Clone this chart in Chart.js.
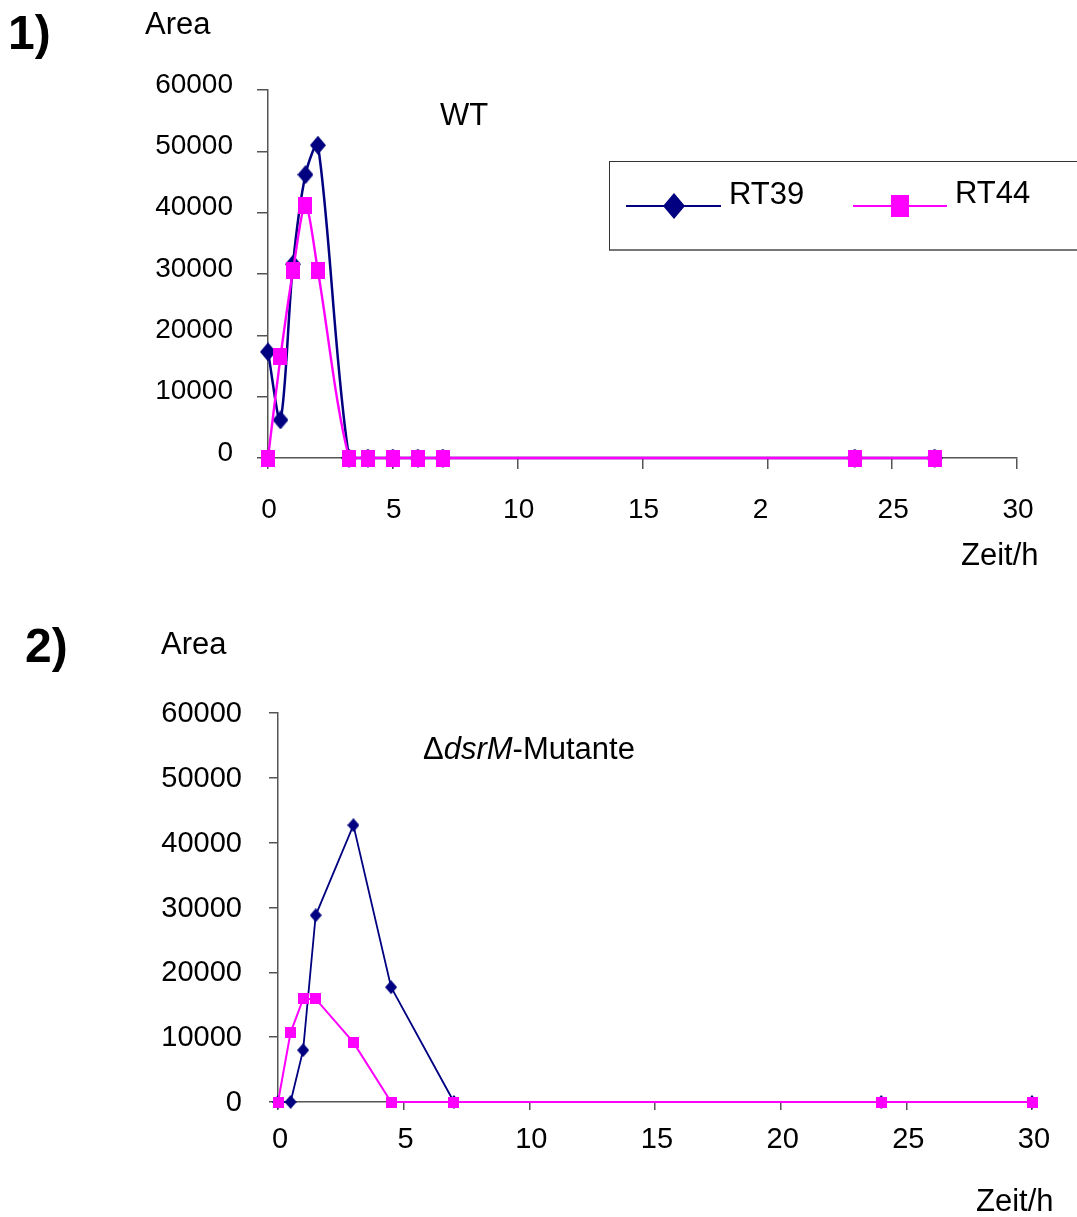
<!DOCTYPE html>
<html>
<head>
<meta charset="utf-8">
<script src="https://cdn.jsdelivr.net/npm/chart.js@4.4.1/dist/chart.umd.min.js"></script>
<style>
  body { margin: 0; width: 1077px; height: 1217px; background: #fff; overflow: hidden; position: relative;
         font-family: "Liberation Sans", Arial, sans-serif; color: #000; }
  canvas { position: absolute; left: 0; }
  .txt { position: absolute; font-size: 31px; line-height: 31px; white-space: nowrap; }
  .num { font-weight: bold; font-size: 48px; line-height: 48px; }
  #legend { position: absolute; left: 609px; top: 161px; width: 520px; height: 90px; box-sizing: border-box;
            border: 1.5px solid #333; border-bottom: 2px solid #777; }
  #legend canvas { left: 0; top: 0; }
</style>
</head>
<body>
<canvas id="chart1" width="1077" height="600" style="top:0"></canvas>
<canvas id="chart2" width="1077" height="617" style="top:600px"></canvas>

<div class="txt num" style="left:8px;top:9px">1)</div>
<div class="txt" style="left:145px;top:8px">Area</div>
<div class="txt" style="left:440px;top:99px">WT</div>
<div class="txt" style="left:961px;top:539px">Zeit/h</div>
<div id="legend">
  <canvas id="legCanvas" width="500" height="86"></canvas>
  <span class="txt" style="left:119px;top:16px">RT39</span>
  <span class="txt" style="left:345px;top:15px">RT44</span>
</div>

<div class="txt num" style="left:25px;top:622px">2)</div>
<div class="txt" style="left:161px;top:628px">Area</div>
<div class="txt" style="left:423px;top:733px">&Delta;<i>dsrM</i>-Mutante</div>
<div class="txt" style="left:976px;top:1185px">Zeit/h</div>

<script>
// 1) WT
const zeit1 = [0, 0.5, 1, 1.5, 2, 3.25, 4, 5, 6, 7, 23.5, 26.7];
const rt39WT = [17300, 6200, 31600, 46200, 51000, 0, 0, 0, 0, 0, 0, 0];
const rt44WT = [0, 16500, 30500, 41100, 30500, 0, 0, 0, 0, 0, 0, 0];

// 2) dsrM-Mutante
const zeit2 = [0, 0.5, 1, 1.5, 3, 4.5, 7, 24, 30];
const rt39Mut = [0, 0, 8000, 28800, 42700, 17700, 0, 0, 0];
const rt44Mut = [0, 10700, 15900, 15900, 9200, 0, 0, 0, 0];

const yTicks = ['0', '10000', '20000', '30000', '40000', '50000', '60000'];
// the "20" of the first chart is cut to "2" in the original
const xTicks1 = ['0', '5', '10', '15', '2\u2007', '25', '30'];
const xTicks2 = ['0', '5', '10', '15', '20', '25', '30'];

const NAVY = '#000080';
const PINK = '#FF00FF';
const AXIS = '#555';

function marker(shape, w, h, color) {
    const c = document.createElement('canvas');
    c.width = w; c.height = h;
    const g = c.getContext('2d');
    g.fillStyle = color;
    g.beginPath();
    if (shape === 'diamond') {
        g.moveTo(w / 2, 0); g.lineTo(w, h / 2); g.lineTo(w / 2, h); g.lineTo(0, h / 2);
        g.closePath();
    } else {
        g.rect(0, 0, w, h);
    }
    g.fill();
    return c;
}

function toPoints(xs, ys) {
    return xs.map((x, i) => ({ x: x, y: ys[i] }));
}

function makeOptions(cfg) {
    return {
        responsive: false,
        animation: false,
        layout: { padding: { left: 0, right: cfg.right, top: cfg.top, bottom: 0 } },
        plugins: { legend: { display: false }, tooltip: { enabled: false } },
        scales: {
            x: {
                type: 'linear', min: 0, max: 30,
                afterFit: s => { s.height = cfg.xHeight; },
                border: { display: true, color: AXIS, width: 1.5 },
                grid: { drawOnChartArea: false, color: AXIS, lineWidth: 1.5, tickLength: cfg.xTick },
                ticks: {
                    stepSize: 5, padding: cfg.xPad, labelOffset: cfg.xOff, maxRotation: 0,
                    color: '#000', font: { family: 'Liberation Sans', size: cfg.font },
                    callback: (v, i) => cfg.xLabels[i]
                }
            },
            y: {
                min: 0, max: 60000,
                afterFit: s => { s.width = cfg.yWidth; },
                border: { display: true, color: AXIS, width: 1.5 },
                grid: { drawOnChartArea: false, color: AXIS, lineWidth: 1.5, tickLength: cfg.yTick },
                ticks: {
                    stepSize: 10000, padding: cfg.yPad, labelOffset: cfg.yOff,
                    color: '#000', font: { family: 'Liberation Sans', size: cfg.font },
                    callback: (v, i) => yTicks[i]
                }
            }
        }
    };
}

new Chart(document.getElementById('chart1'), {
    type: 'line',
    data: {
        datasets: [
            { label: 'RT39', data: toPoints(zeit1, rt39WT), borderColor: NAVY, borderWidth: 2.5, tension: 0.3,
              pointStyle: marker('diamond', 16, 19, NAVY), pointRadius: 10, order: 1, clip: false },
            { label: 'RT44', data: toPoints(zeit1, rt44WT), borderColor: PINK, borderWidth: 2.4, tension: 0.3,
              pointStyle: marker('square', 14, 17, PINK), pointRadius: 10, order: 0, clip: false }
        ]
    },
    options: makeOptions({ right: 60, top: 90, xHeight: 142, yWidth: 268, xTick: 11, yTick: 11,
                           xPad: 24, yPad: 24, xOff: 1, yOff: -5, font: 28, xLabels: xTicks1 })
});

new Chart(document.getElementById('chart2'), {
    type: 'line',
    data: {
        datasets: [
            { label: 'RT39', data: toPoints(zeit2, rt39Mut), borderColor: NAVY, borderWidth: 1.8, tension: 0,
              pointStyle: marker('diamond', 12, 14, NAVY), pointRadius: 8, order: 1, clip: false },
            { label: 'RT44', data: toPoints(zeit2, rt44Mut), borderColor: PINK, borderWidth: 2, tension: 0,
              pointStyle: marker('square', 11, 11, PINK), pointRadius: 8, order: 0, clip: false }
        ]
    },
    options: makeOptions({ right: 45, top: 113, xHeight: 115, yWidth: 278, xTick: 8, yTick: 9,
                           xPad: 13, yPad: 27, xOff: 2, yOff: 1, font: 29, xLabels: xTicks2 })
});

// legend samples
const lg = document.getElementById('legCanvas').getContext('2d');
function legendSample(x1, x2, y, color, img) {
    lg.strokeStyle = color;
    lg.lineWidth = 2;
    lg.beginPath(); lg.moveTo(x1, y); lg.lineTo(x2, y); lg.stroke();
    lg.drawImage(img, Math.round((x1 + x2) / 2 - img.width / 2), Math.round(y - img.height / 2));
}
legendSample(16, 111, 44, NAVY, marker('diamond', 22, 26, NAVY));
legendSample(243, 337, 44, PINK, marker('square', 18, 22, PINK));
</script>
</body>
</html>
